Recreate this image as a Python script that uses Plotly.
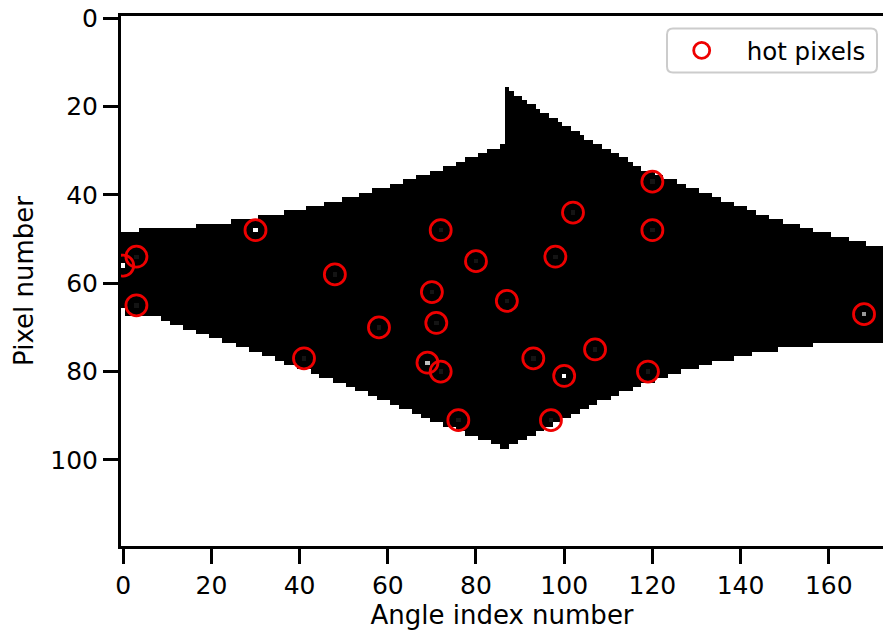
import numpy as np
import plotly.graph_objects as go

# ---------------- data ----------------
N_ROWS = 120          # pixel numbers 0..119
N_COLS = 173          # angle indices shown 0..172

# top edge of the mask: from this column on, first masked (black) row
top_step_cols = [0, 4, 17, 25, 31, 37, 42, 46, 50, 54, 57, 61, 64, 67, 70, 73, 76, 78, 81, 83, 86,
                 87, 88, 89, 91, 92, 94, 95, 97, 99, 100, 102, 104, 105, 107, 109, 111, 113, 115, 116,
                 118, 121, 123, 126, 128, 131, 134, 136, 139, 142, 144, 147, 150, 154, 157, 161, 165, 169]
top_step_rows = [49, 48, 47, 46, 45, 44, 43, 42, 41, 40, 39, 38, 37, 36, 35, 34, 33, 32, 31, 30, 29,
                 16, 17, 18, 19, 20, 21, 22, 23, 24, 25, 26, 27, 28, 29, 30, 31, 32, 33, 34,
                 35, 36, 37, 38, 39, 40, 41, 42, 43, 44, 45, 46, 47, 48, 49, 50, 51, 52]

# bottom edge of the mask: from this column on, last masked (black) row
bottom_step_cols = [0, 1, 9, 11, 14, 17, 20, 23, 26, 29, 32, 35, 37, 40, 43, 45, 48, 51, 53, 56, 58,
                    61, 63, 66, 68, 70, 73, 76, 78, 81, 84, 86, 88, 90, 92, 94, 96, 98, 100, 102,
                    104, 106, 108, 111, 113, 116, 118, 121, 124, 127, 131, 134, 139, 143, 149, 157]
bottom_step_rows = [65, 67, 68, 69, 70, 71, 72, 73, 74, 75, 76, 77, 78, 79, 80, 81, 82, 83, 84, 85, 86,
                    87, 88, 89, 90, 91, 92, 93, 94, 95, 96, 97, 96, 95, 94, 93, 92, 91, 90, 89,
                    88, 87, 86, 85, 84, 83, 82, 81, 80, 79, 78, 77, 76, 75, 74, 73]

# hot pixels (angle index, pixel number) and their grey level in the image
hot_x = [0, 3, 3, 30, 41, 48, 58, 69, 70, 71, 72, 72, 76, 80, 87, 93, 97, 98, 100, 102, 107, 119, 120, 120, 168]
hot_y = [56, 54, 65, 48, 77, 58, 70, 78, 62, 69, 48, 80, 91, 55, 64, 77, 91, 54, 81, 44, 75, 80, 37, 48, 67]
hot_level = [1.0, 0.08, 0.08, 1.0, 0.08, 0.08, 0.08, 0.75, 0.08, 0.08, 0.08, 0.08, 0.08, 0.08, 0.08,
             0.08, 0.08, 0.08, 1.0, 0.08, 0.08, 0.08, 0.08, 0.08, 0.6]

x_ticks = [0, 20, 40, 60, 80, 100, 120, 140, 160]
y_ticks = [0, 20, 40, 60, 80, 100]

# ---------------- build image ----------------
def step_value(cols, rows, c):
    v = rows[0]
    for sc, sr in zip(cols, rows):
        if c >= sc:
            v = sr
    return v

z = np.ones((N_ROWS, N_COLS))
for c in range(N_COLS):
    t = step_value(top_step_cols, top_step_rows, c)
    b = step_value(bottom_step_cols, bottom_step_rows, c)
    z[t:b + 1, c] = 0.0
for hx, hy, lv in zip(hot_x, hot_y, hot_level):
    z[hy, hx] = lv

FONT = "DejaVu Sans"
L, T, W, H = 121, 16, 762, 530   # plot area in pixels

fig = go.Figure()
fig.add_trace(go.Heatmap(
    z=z, x=np.arange(N_COLS), y=np.arange(N_ROWS),
    colorscale=[[0, "#000000"], [1, "#ffffff"]], zmin=0, zmax=1,
    showscale=False, hoverinfo="skip", showlegend=False,
))
fig.add_trace(go.Scatter(
    x=hot_x, y=hot_y, mode="markers", name="hot pixels",
    marker=dict(symbol="circle-open", size=21, color="#ee0000", line=dict(width=2.8, color="#ee0000")),
))

# rounded legend frame
w2, h2, r = 105, 22, 6
path = (f"M {-w2+r},{-h2} L {w2-r},{-h2} Q {w2},{-h2} {w2},{-h2+r} L {w2},{h2-r} Q {w2},{h2} {w2-r},{h2} "
        f"L {-w2+r},{h2} Q {-w2},{h2} {-w2},{h2-r} L {-w2},{-h2+r} Q {-w2},{-h2} {-w2+r},{-h2} Z")
fig.add_shape(type="path", path=path, xref="paper", yref="paper",
              xsizemode="pixel", ysizemode="pixel",
              xanchor=(772 - L) / W, yanchor=1 - (50.5 - T) / H,
              line=dict(color="#cccccc", width=2), fillcolor="white", layer="above")

fig.update_layout(
    width=883, height=634,
    margin=dict(l=L, r=883 - L - W, t=T, b=634 - T - H, autoexpand=False),
    paper_bgcolor="white", plot_bgcolor="white",
    font=dict(family=FONT, size=25, color="black"),
    showlegend=True,
    legend=dict(x=(656.7 - L) / W, xanchor="left", y=1 - (50.5 - T) / H, yanchor="middle",
                bgcolor="rgba(0,0,0,0)", borderwidth=0, itemwidth=80,
                font=dict(family=FONT, size=24.5, color="black")),
    xaxis=dict(range=[-0.5, 172.3], tickvals=x_ticks, showgrid=False, zeroline=False,
               showline=True, linecolor="black", linewidth=3, mirror=True, automargin=False,
               ticks="outside", ticklen=15, tickwidth=2.5, tickcolor="black",
               tickfont=dict(family=FONT, size=25),
               title=dict(text="Angle index number", font=dict(family=FONT, size=26), standoff=6)),
    yaxis=dict(range=[119.5, -0.5], tickvals=y_ticks, showgrid=False, zeroline=False,
               showline=True, linecolor="black", linewidth=3, mirror=False, automargin=False,
               ticks="outside", ticklen=15, tickwidth=2.5, tickcolor="black",
               tickfont=dict(family=FONT, size=25),
               title=dict(text="Pixel number", font=dict(family=FONT, size=26), standoff=10)),
)

fig.write_html("out.html", config={"displayModeBar": False},
               post_script="document.body.style.margin='0px';document.body.style.overflow='hidden';")
